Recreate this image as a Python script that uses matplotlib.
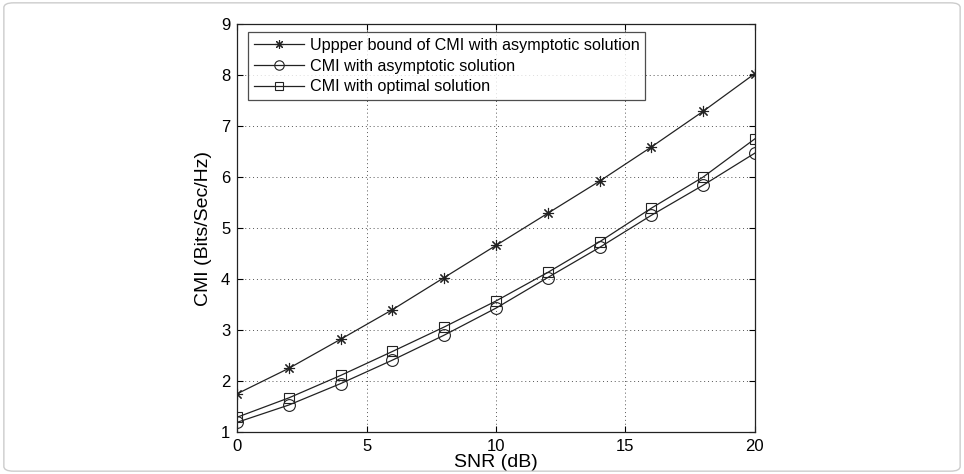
import matplotlib.pyplot as plt
from matplotlib.patches import FancyBboxPatch

snr = [0, 2, 4, 6, 8, 10, 12, 14, 16, 18, 20]
upper_bound = [1.75, 2.25, 2.82, 3.40, 4.03, 4.66, 5.29, 5.92, 6.59, 7.29, 8.03]
cmi_asym = [1.19, 1.53, 1.95, 2.41, 2.90, 3.43, 4.03, 4.62, 5.25, 5.84, 6.47]
cmi_opt = [1.29, 1.67, 2.11, 2.58, 3.06, 3.57, 4.13, 4.73, 5.39, 6.00, 6.75]

plt.rcParams['font.family'] = ['Liberation Sans', 'DejaVu Sans']

fig = plt.figure(figsize=(9.64, 4.74), dpi=100)
ax = fig.add_axes([0.246, 0.0886, 0.537, 0.8604])

# light rounded frame around the whole figure
frame = FancyBboxPatch((0.004, 0.006), 0.992, 0.988, boxstyle='round,pad=0,rounding_size=0.01',
                       transform=fig.transFigure, fill=False, edgecolor='#cccccc', linewidth=1.0)
fig.patches.append(frame)

lc = '#222222'
ax.plot(snr, upper_bound, color=lc, lw=0.9, marker=(8, 2, 0), ms=8, mfc='none', mec=lc, mew=0.8,
        label='Uppper bound of CMI with asymptotic solution')
ax.plot(snr, cmi_asym, color=lc, lw=0.9, marker='o', ms=8.5, mfc='none', mec=lc, mew=0.8,
        label='CMI with asymptotic solution')
ax.plot(snr, cmi_opt, color=lc, lw=0.9, marker='s', ms=7.5, mfc='none', mec=lc, mew=0.8,
        label='CMI with optimal solution')

ax.set_xlim(0, 20)
ax.set_ylim(1, 9)
ax.set_xticks([0, 5, 10, 15, 20])
ax.set_yticks(range(1, 10))
ax.grid(True, linestyle=(0, (1, 3)), color='#555555', linewidth=0.7)
ax.tick_params(direction='in', top=True, right=True, labelsize=12, length=4, width=0.8, pad=5)
for s in ax.spines.values():
    s.set_linewidth(0.9)
    s.set_color('#222222')

ax.set_xlabel('SNR (dB)', fontsize=14, labelpad=0)
ax.set_ylabel('CMI (Bits/Sec/Hz)', fontsize=14, labelpad=6)

leg = ax.legend(loc='upper left', bbox_to_anchor=(0.021, 0.98), fontsize=11.6, frameon=True,
                fancybox=False, edgecolor='#222222', handlelength=3.1, borderpad=0.35,
                labelspacing=0.35, handletextpad=0.4, borderaxespad=0, markerscale=0.8)
leg.get_frame().set_linewidth(0.9)

fig.savefig('out.png', dpi=100)
